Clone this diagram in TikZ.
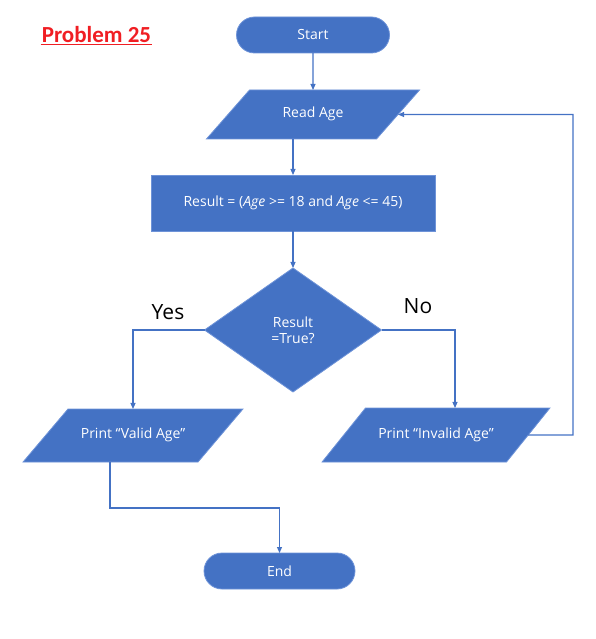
\documentclass[tikz,border=0pt]{standalone}
\usepackage{fontspec}
\setmainfont{Open Sans}
\newfontfamily\titlefont{Carlito}
\usetikzlibrary{shapes.geometric,arrows.meta}
\definecolor{flowblue}{HTML}{4472C4}
\definecolor{edgeblue}{HTML}{6E93D8}
\definecolor{titlered}{HTML}{F01E23}
\newcommand{\parabox}[1]{\makebox[90pt][c]{#1}}
\tikzset{
  base/.style={fill=flowblue,draw=edgeblue,line width=0.8pt,text=white,font=\fontsize{14}{16}\selectfont,inner sep=0pt,outer sep=0pt},
  term/.style={base,rectangle,rounded corners=18pt,minimum height=36pt},
  para/.style={base,trapezium,trapezium left angle=#1,trapezium right angle=180-#1,
    text height=9pt,text depth=3pt},
  procbox/.style={base,rectangle,minimum width=284pt,minimum height=56pt},
  decision/.style={base,diamond,minimum width=177pt,minimum height=124pt},
  flow/.style={draw=flowblue,line width=1.1pt,-{Triangle[length=6pt,width=5pt]}},
  answer/.style={font=\fontsize{21}{24}\selectfont,text=black}
}
\begin{document}
\begin{tikzpicture}[x=1pt,y=-1pt]
\useasboundingbox (0,0) rectangle (595,639);
\node[font=\titlefont\bfseries\fontsize{23}{26}\selectfont,text=titlered,inner sep=1pt] (title) at (96.5,35) {Problem 25};
\draw[titlered,line width=1.6pt] (title.south west) -- (title.south east);

\node[term,minimum width=153pt] (start) at (313,35) {Start};
\node[para=48.7,inner xsep=18.5pt,inner ysep=18.5pt] (read) at (313,114.5) {\parabox{Read Age}};
\node[procbox] (result) at (293,203) {Result = (\textit{Age} >= 18 and \textit{Age} <= 45)};
\node[decision,align=center] (dec) at (293,330) {Result\\=True?};
\node[para=49.7,inner xsep=20pt,inner ysep=20.5pt] (valid) at (133,435.5) {\parabox{Print “Valid Age”}};
\node[para=51.2,inner xsep=25.5pt,inner ysep=21pt] (invalid) at (436,435) {\parabox{Print “Invalid Age”}};
\node[term,minimum width=151pt] (end) at (279.5,571) {End};

\node[answer] (yes) at (168,312) {Yes};
\node[answer] (no) at (418,306) {No};

\coordinate (nox) at (455,0);
\coordinate (lp1) at (573,435);
\coordinate (lp2) at (573,114.5);
\coordinate (v1) at (110,508);

\draw[flow] (start) -- (read);
\draw[flow] (read.south -| result.north) -- (result.north);
\draw[flow] (result) -- (dec);
\draw[flow] (dec.west) -| (valid.north);
\draw[flow] (dec.east) -| (invalid.north -| nox);
\draw[flow] (invalid.east) -- (lp1) -- (lp2) -- (read.east);
\draw[flow] (valid.south -| v1) -- (v1) -| (end.north);
\end{tikzpicture}
\end{document}
